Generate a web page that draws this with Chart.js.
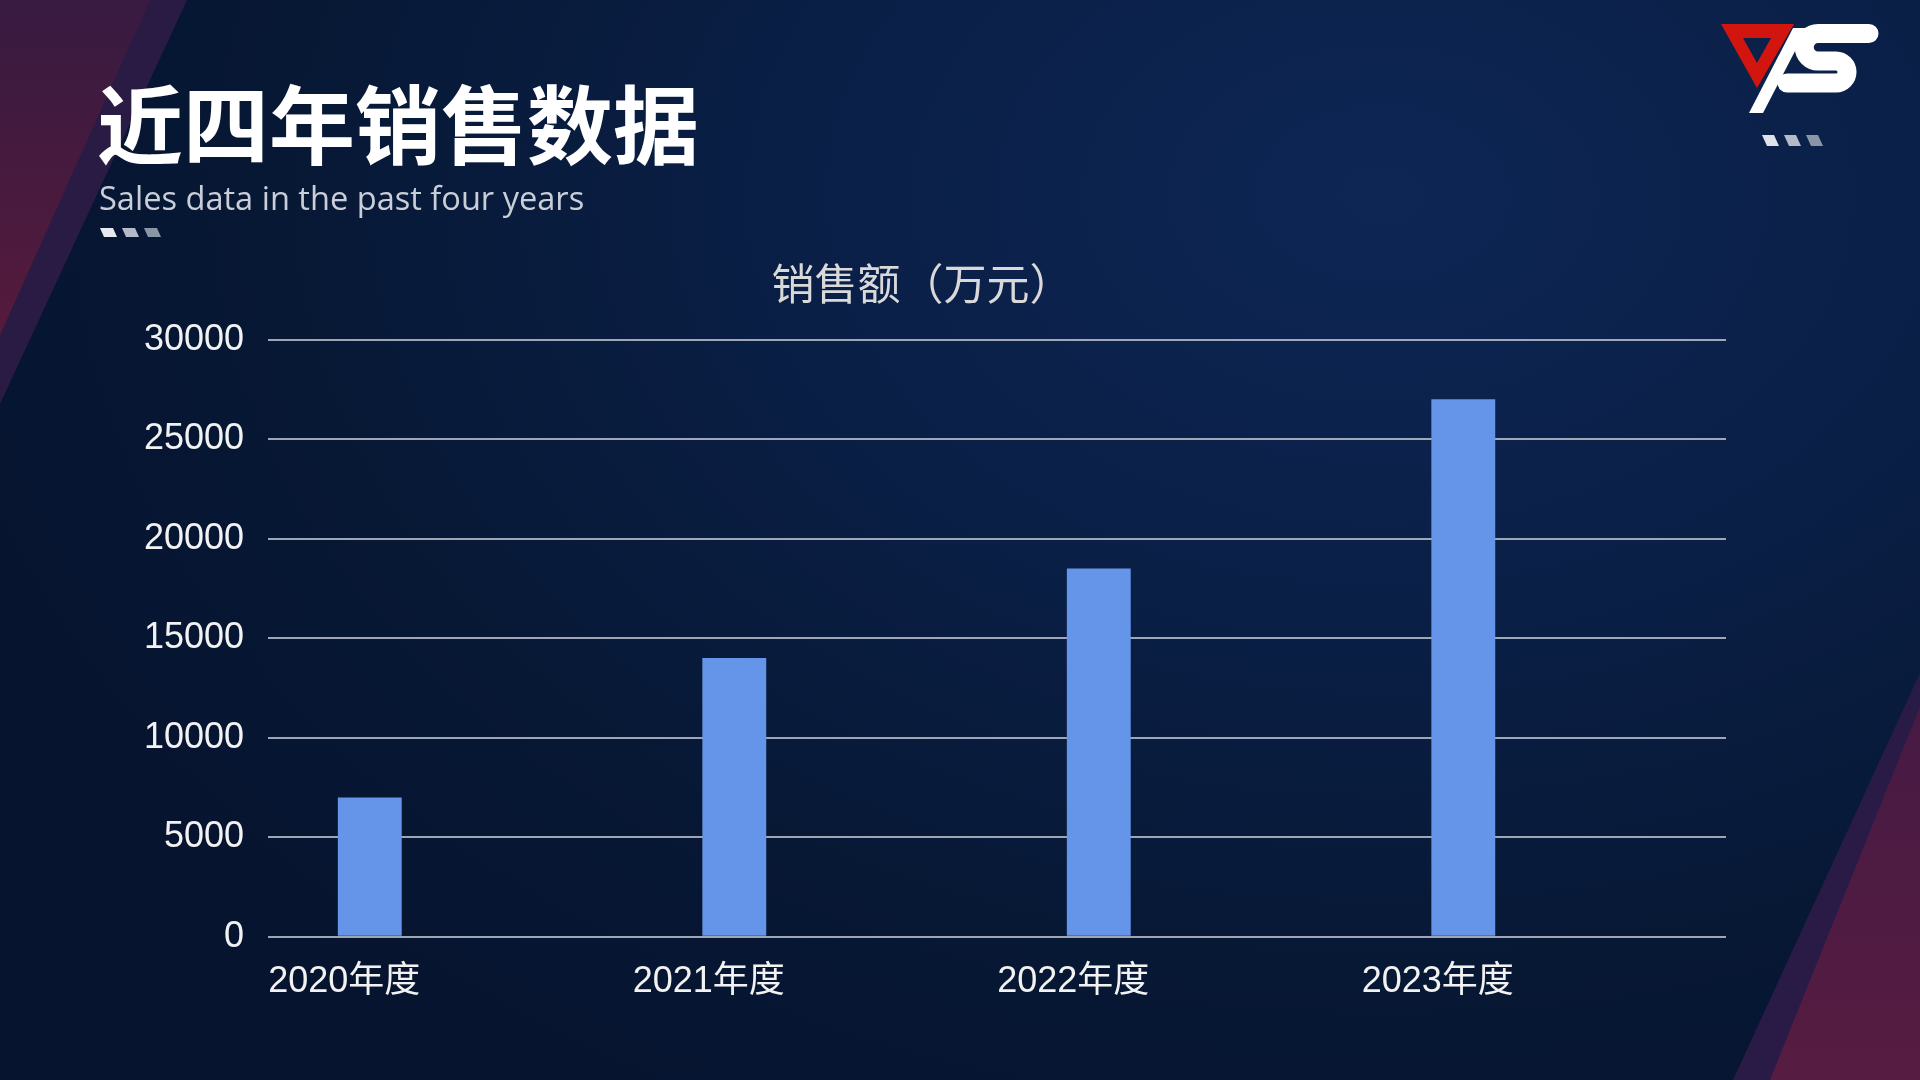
<!DOCTYPE html>
<html>
<head>
<meta charset="utf-8">
<script src="https://cdn.jsdelivr.net/npm/chart.js@4.4.1/dist/chart.umd.min.js"></script>
<style>
    html, body { margin: 0; padding: 0; }
    body {
        width: 1920px; height: 1080px; overflow: hidden; position: relative;
        background: radial-gradient(ellipse 1500px 1050px at 72% 18%, #0d2654 0%, #0a1f46 40%, #071834 75%, #061430 100%);
    }
    #bg, #logo { position: absolute; left: 0; top: 0; }
    #chart { position: absolute; left: 0; top: 0; }
    .title {
        position: absolute; left: 97px; top: 78px;
        font-family: 'Noto Sans CJK SC', sans-serif; font-weight: 700;
        font-size: 86px; line-height: 1; color: #ffffff; white-space: nowrap;
    }
    .subtitle {
        position: absolute; left: 99px; top: 182px;
        font-family: 'Open Sans', 'Noto Sans', sans-serif; font-weight: 400;
        font-size: 32.6px; line-height: 1; color: #c9ced8; white-space: nowrap;
    }
</style>
</head>
<body>

<!-- background shapes -->
<svg id="bg" width="1920" height="1080">
    <defs>
        <linearGradient id="redL" x1="0" y1="0" x2="0" y2="1">
            <stop offset="0" stop-color="#3a1a40"/>
            <stop offset="1" stop-color="#5a1a3c"/>
        </linearGradient>
        <linearGradient id="redR" x1="0" y1="0" x2="0" y2="1">
            <stop offset="0" stop-color="#4a1a44"/>
            <stop offset="1" stop-color="#5c1c40"/>
        </linearGradient>
    </defs>
    <polygon points="0,0 187,0 0,404" fill="#2e1c46" opacity="0.9"/>
    <polygon points="0,0 150,0 0,335" fill="url(#redL)" opacity="0.9"/>
    <polygon points="1920,673 1920,1080 1733,1080" fill="#2e1c48" opacity="0.9"/>
    <polygon points="1920,707 1920,1080 1770,1080" fill="url(#redR)" opacity="0.9"/>
</svg>

<canvas id="chart" width="1920" height="1080"></canvas>

<div class="title">近四年销售数据</div>
<div class="subtitle">Sales data in the past four years</div>

<!-- logo and small dash marks -->
<svg id="logo" width="1920" height="1080">
    <path d="M1721 24 L1794 24 L1757 88 Z M1743 38 L1757 63 L1771 38 Z" fill="#d2160f" fill-rule="evenodd"/>
    <polygon points="1793,28 1807,28 1763,113 1749,113" fill="#ffffff"/>
    <path d="M1869 33.5 L1818 33.5 A 13.5 13.5 0 0 0 1818 61 L1836 61 A 11 11 0 0 1 1836 83 L1787 83"
          fill="none" stroke="#ffffff" stroke-width="19" stroke-linecap="round"/>
    <polygon points="1762,135 1774,135 1779,146 1767,146" fill="#dfe3ea"/>
    <polygon points="1784,135 1796,135 1801,146 1789,146" fill="#b3bbc8"/>
    <polygon points="1806,135 1818,135 1823,146 1811,146" fill="#8a95a6"/>
    <polygon points="100,228 113,228 117,237 104,237" fill="#e6e9ef"/>
    <polygon points="122,228 135,228 139,237 126,237" fill="#b3bbc8"/>
    <polygon points="144,228 157,228 161,237 148,237" fill="#8a95a6"/>
</svg>

<script>
// ─── DATA ────────────────────────────────────────────────────
const categories   = ['2020年度', '2021年度', '2022年度', '2023年度'];
const salesValues  = [7000, 14000, 18500, 27000];
const spacerValues = [null, null, null, null];   // empty second series, keeps bars left of centre
const yMin  = 0;
const yMax  = 30000;
const yStep = 5000;

// ─── CHART ───────────────────────────────────────────────────
const latinCjk = "'Liberation Sans', Arial, 'Noto Sans CJK SC', sans-serif";

new Chart(document.getElementById('chart'), {
    type: 'bar',
    data: {
        labels: categories,
        datasets: [
            {
                label: '销售额',
                data: salesValues,
                backgroundColor: '#6495e8',
                categoryPercentage: 0.883,
                barPercentage: 0.397
            },
            {
                label: '',
                data: spacerValues,
                backgroundColor: 'transparent',
                categoryPercentage: 0.883,
                barPercentage: 0.397
            }
        ]
    },
    options: {
        responsive: false,
        animation: false,
        layout: { padding: { left: 118, right: 194, top: 0, bottom: 52 } },
        plugins: {
            legend: { display: false },
            tooltip: { enabled: false },
            title: {
                display: true,
                text: '销售额（万元）',
                color: '#d9d9d9',
                font: { family: "'Noto Sans CJK SC', sans-serif", size: 43, weight: 'normal' },
                padding: { top: 258, bottom: 30 }
            }
        },
        scales: {
            x: {
                grid: { display: false, drawTicks: false },
                border: { display: false },
                ticks: {
                    color: '#f2f2f2',
                    font: { family: latinCjk, size: 36 },
                    padding: 24,
                    align: 'start',
                    labelOffset: -182,
                    maxRotation: 0,
                    autoSkip: false
                }
            },
            y: {
                min: yMin,
                max: yMax,
                ticks: {
                    stepSize: yStep,
                    color: '#f2f2f2',
                    font: { family: latinCjk, size: 36 },
                    padding: 24,
                    callback: v => String(v)
                },
                grid: { color: 'rgba(185,192,205,0.85)', lineWidth: 2, drawTicks: false },
                border: { display: false },
                afterFit: scale => { scale.width = 150; }
            }
        }
    }
});
</script>
</body>
</html>
